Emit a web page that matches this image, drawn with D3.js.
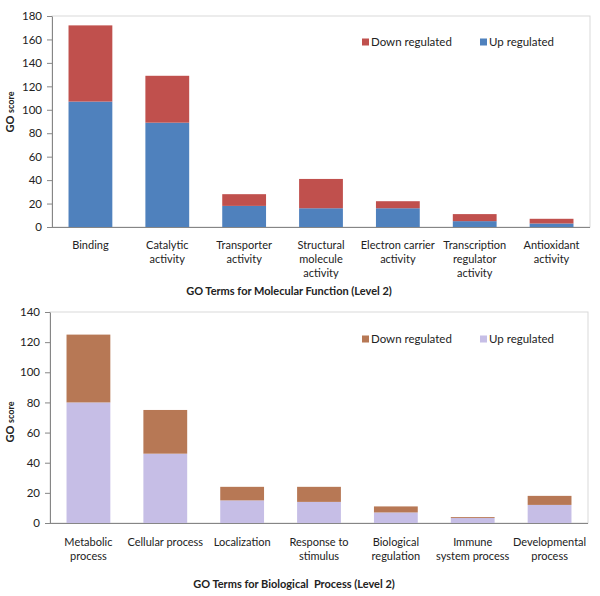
<!DOCTYPE html>
<html><head><meta charset="utf-8">
<script src="https://cdn.jsdelivr.net/npm/d3@7"></script>
<style>body{margin:0;background:#fff}svg{display:block}text{font-family:Lato,"Open Sans",sans-serif;fill:#222}</style>
</head><body><svg id="c" width="600" height="596"></svg>
<script>
const mfCategories = [["Binding"],["Catalytic","activity"],["Transporter","activity"],["Structural","molecule","activity"],["Electron carrier","activity"],["Transcription","regulator","activity"],["Antioxidant","activity"]];
const mfUp = [107, 89, 18, 16, 16, 5, 3];
const mfDown = [65, 40, 10, 25, 6, 6, 4];
const mfTicks = [0,20,40,60,80,100,120,140,160,180];

const bpCategories = [["Metabolic","process"],["Cellular process"],["Localization"],["Response to","stimulus"],["Biological","regulation"],["Immune","system process"],["Developmental","process"]];
const bpUp = [80, 46, 15, 14, 7, 3.3, 12];
const bpDown = [45, 29, 9, 10, 4, 0.6, 6];
const bpTicks = [0,20,40,60,80,100,120,140];

const svg = d3.select("#c");

function chart(cfg){
  const g = svg.append("g");
  const x = d3.scaleBand().domain(cfg.cats.map((d,i)=>i)).range([cfg.x0,cfg.x1]).paddingInner(0.43).paddingOuter(0.215);
  const y = d3.scaleLinear().domain([0,cfg.max]).range([cfg.y1,cfg.y0]);
  g.append("rect").attr("x",cfg.x0).attr("y",cfg.y0).attr("width",cfg.x1-cfg.x0).attr("height",cfg.y1-cfg.y0)
    .attr("fill","none").attr("stroke","#d9d9d9").attr("stroke-width",1);
  cfg.cats.forEach((c,i)=>{
    g.append("rect").attr("x",x(i)).attr("width",x.bandwidth()).attr("y",y(cfg.up[i])).attr("height",y(0)-y(cfg.up[i])).attr("fill",cfg.cUp);
    g.append("rect").attr("x",x(i)).attr("width",x.bandwidth()).attr("y",y(cfg.up[i]+cfg.down[i])).attr("height",y(cfg.up[i])-y(cfg.up[i]+cfg.down[i])).attr("fill",cfg.cDown);
  });
  const ya = g.append("g").attr("transform",`translate(${cfg.x0},0)`)
    .call(d3.axisLeft(y).tickValues(cfg.ticks).tickSize(5).tickSizeOuter(0).tickPadding(5));
  ya.select(".domain").attr("stroke","#868686");
  ya.selectAll(".tick line").attr("stroke","#868686");
  ya.selectAll(".tick text").style("font-size","11.5px").style("font-family","Lato").attr("fill","#222");
  const xa = g.append("g").attr("transform",`translate(0,${cfg.y1})`)
    .call(d3.axisBottom(x).tickSize(0).tickFormat(""));
  xa.select(".domain").attr("stroke","#868686").attr("d",`M${cfg.x0-4},0.5H${cfg.x1}`);
  cfg.cats.forEach((lines,i)=>{
    const t = g.append("text").attr("text-anchor","middle").style("font-size","11px")
      .attr("x",x(i)+x.bandwidth()/2).attr("y",cfg.y1+cfg.lab0);
    lines.forEach((l,j)=>t.append("tspan").attr("x",x(i)+x.bandwidth()/2).attr("dy",j?14:0).text(l));
  });
  g.append("text").attr("text-anchor","middle").attr("x",cfg.tx).attr("y",cfg.ty)
    .style("font-size","11px").style("font-weight","bold").text(cfg.title).attr("xml:space","preserve").style("white-space","pre");
  const yt = g.append("text").attr("text-anchor","middle").attr("transform",`translate(14,${cfg.yty}) rotate(-90)`)
    .style("font-weight","bold");
  yt.append("tspan").style("font-size","11px").text("GO ");
  yt.append("tspan").style("font-size","9px").text("score");
  const lg = [[cfg.cDown,"Down regulated",362],[cfg.cUp,"Up regulated",480]];
  lg.forEach(([c,t,lx])=>{
    g.append("rect").attr("x",lx).attr("y",cfg.ly-3.5).attr("width",7).attr("height",7).attr("fill",c);
    g.append("text").attr("x",lx+9).attr("y",cfg.ly+4).style("font-size","11.5px").text(t);
  });
}

chart({cats:mfCategories, up:mfUp, down:mfDown, ticks:mfTicks, max:180,
  x0:52, x1:590, y0:16, y1:227, cUp:"#4f81bd", cDown:"#c0504d",
  lab0:22, title:"GO Terms for Molecular Function (Level 2)", tx:289, ty:295, yty:112, ly:42});
chart({cats:bpCategories, up:bpUp, down:bpDown, ticks:bpTicks, max:140,
  x0:50, x1:588, y0:312, y1:523, cUp:"#c6bee6", cDown:"#b77855",
  lab0:23, title:"GO Terms for Biological  Process (Level 2)", tx:294, ty:588, yty:422, ly:339});
</script></body></html>
